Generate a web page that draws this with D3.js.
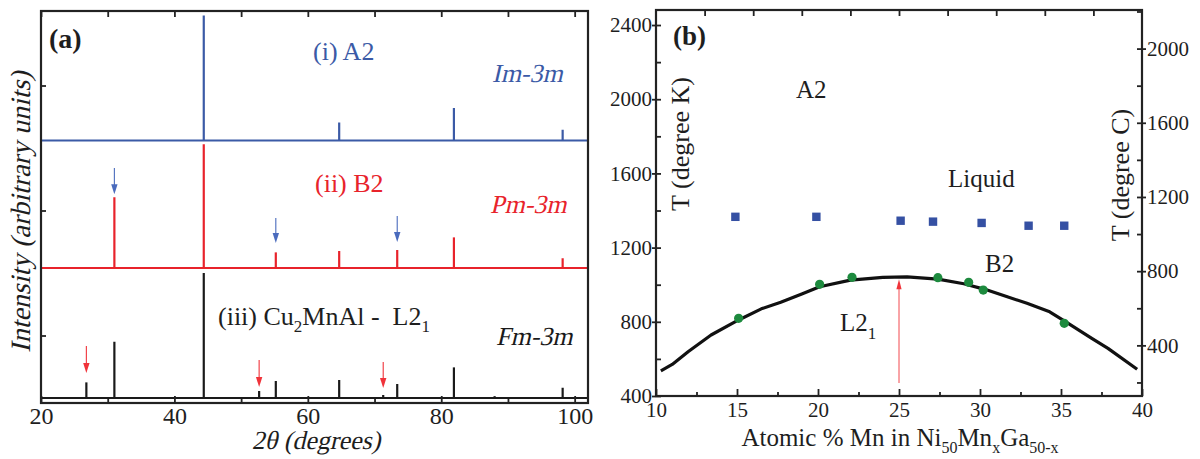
<!DOCTYPE html>
<html><head><meta charset="utf-8">
<script src="https://cdn.jsdelivr.net/npm/d3@7"></script>
<style>
body{margin:0;background:#fff}
svg{display:block}
text{font-family:"Liberation Serif",serif;fill:#1e1e1e}
</style>
</head><body>
<svg id="c" width="1200" height="459" font-family="Liberation Serif, serif"></svg>
<script>
// ---------- Panel (a) data: XRD stick patterns ----------
const a2Angles = [44.4, 64.7, 81.9, 98.2];
const a2Intensity = [100, 14.4, 26, 8.6];
const b2Angles = [31.0, 44.4, 55.2, 64.7, 73.4, 81.9, 98.2];
const b2Intensity = [56.6, 99, 12.5, 13.6, 14.4, 24.5, 7.8];
const l21Angles = [26.8, 31.0, 44.4, 52.7, 55.2, 64.7, 71.3, 73.4, 81.9, 88.0, 98.2];
const l21Intensity = [12.5, 45, 100, 5.6, 13.6, 14.4, 2.4, 11.2, 24.5, 1.5, 8.2];
// arrows (angle, start intensity, tip intensity) relative to the pattern baseline
const blueArrowAngles = [31.0, 55.2, 73.4];
const blueArrowFrom = [80, 40, 41.6];
const blueArrowTo = [59, 20, 20.8];
const redArrowAngles = [26.8, 52.7, 71.3];
const redArrowFrom = [41.6, 30.4, 28.8];
const redArrowTo = [20, 8.8, 8];
const xTicksA = [20, 40, 60, 80, 100];
const xMinorA = [30, 50, 70, 90];

// ---------- Panel (b) data: phase diagram ----------
const liquidusX = [14.9, 19.9, 25.1, 27.1, 30.1, 33.0, 35.2];
const liquidusK = [1366, 1366, 1345, 1340, 1333, 1318, 1318];
const orderX = [15.1, 20.1, 22.1, 27.4, 29.3, 30.2, 35.2];
const orderK = [819, 1002, 1040, 1038, 1013, 971, 792];
const curveX = [10.3, 11.0, 12.0, 13.4, 15.1, 16.5, 17.7, 19.0, 20.1, 22.0, 24.0, 25.5, 27.4, 29.0, 30.3, 31.5, 32.9, 34.3, 35.3, 36.9, 37.9, 39.7];
const curveK = [536, 570, 640, 729, 810, 870, 905, 950, 989, 1025, 1040, 1042, 1030, 1005, 975, 940, 900, 854, 800, 711, 657, 544];
const xTicksB = [10, 15, 20, 25, 30, 35, 40];
const xMinorB = [12.5, 17.5, 22.5, 27.5, 32.5, 37.5];
const xTopB = [13, 16, 19, 22, 25, 28, 31, 34, 37];
const yTicksK = [400, 800, 1200, 1600, 2000, 2400];
const yMinorK = [600, 1000, 1400, 1800, 2200];
const yTicksC = [400, 800, 1200, 1600, 2000];
const yMinorC = [200, 600, 1000, 1400, 1800, 2200];

const SERIF = "Liberation Serif, serif";
const BLUE = "#3b5aa6", RED = "#e8232b", BLACK = "#1a1a1a", GREEN = "#1d8a3e", SQ = "#3550a3";
const svg = d3.select("#c");
svg.append("rect").attr("width",1200).attr("height",459).attr("fill","#fff");

// italic helper: serif text slanted with skewX (keeps a serif look whatever italic face exists)
function italic(g, x, y, str, size, color, anchor) {
  const gg = g.append("g").attr("transform", `translate(${x},${y}) skewX(-13)`);
  return gg.append("text").attr("x", 0).attr("y", 0)
    .attr("text-anchor", anchor || "start")
    .attr("font-family", SERIF).style("font-size", size + "px").style("fill", color || "#1e1e1e")
    .text(str);
}

// ================= Panel (a) =================
const xA = d3.scaleLinear().domain([20, 102]).range([41, 588]);
const yA = d3.scaleLinear().domain([-4, 309.6]).range([403, 11]);
const pa = svg.append("g");

const patterns = [
  {angles: a2Angles, inten: a2Intensity, off: 206, color: BLUE},
  {angles: b2Angles, inten: b2Intensity, off: 104, color: RED},
  {angles: l21Angles, inten: l21Intensity, off: 0, color: BLACK}
];
patterns.forEach(p => {
  pa.append("line").attr("x1", xA.range()[0]).attr("x2", xA.range()[1])
    .attr("y1", yA(p.off)).attr("y2", yA(p.off))
    .attr("stroke", p.color).attr("stroke-width", 2.2);
  pa.selectAll(null).data(p.angles).enter().append("line")
    .attr("x1", d => xA(d)).attr("x2", d => xA(d))
    .attr("y1", yA(p.off)).attr("y2", (d,i) => yA(p.off + p.inten[i]))
    .attr("stroke", p.color).attr("stroke-width", 2.2);
});

function arrow(g, x, y1, y2, color, w, hw, hl) {
  const dir = y2 > y1 ? -1 : 1;
  g.append("line").attr("x1", x).attr("x2", x).attr("y1", y1).attr("y2", y2 + dir*(hl-1))
    .attr("stroke", color).attr("stroke-width", w);
  g.append("path").attr("d", `M${x},${y2} L${x-hw},${y2+dir*hl} L${x+hw},${y2+dir*hl} Z`).attr("fill", color);
}
blueArrowAngles.forEach((a,i) => arrow(pa, xA(a), yA(104+blueArrowFrom[i]), yA(104+blueArrowTo[i]), "#4a6bbd", 1.1, 3.2, 10));
redArrowAngles.forEach((a,i) => arrow(pa, xA(a), yA(redArrowFrom[i]), yA(redArrowTo[i]), "#f0333a", 1.1, 3.2, 10));

// frame
pa.append("rect").attr("x", 41).attr("y", 11).attr("width", 547).attr("height", 392)
  .attr("fill","none").attr("stroke","#222").attr("stroke-width",2.2);

function styleAxis(a, size) {
  a.attr("font-family", SERIF).attr("font-size", size || 10);
  a.select(".domain").remove();
  a.selectAll("line").attr("stroke","#222").attr("stroke-width",1.8);
  a.selectAll("text").attr("font-family", SERIF).style("font-family", SERIF)
    .style("font-size", (size||10) + "px").attr("fill","#1e1e1e");
}
const fmt = d3.format("d");
const axB = pa.append("g").attr("transform","translate(0,403)")
  .call(d3.axisBottom(xA).tickValues(xTicksA).tickFormat(fmt).tickSize(-7).tickPadding(4));
styleAxis(axB, 24);
const axBm = pa.append("g").attr("transform","translate(0,403)")
  .call(d3.axisBottom(xA).tickValues(xMinorA).tickSize(-4).tickFormat(""));
styleAxis(axBm);
const axT = pa.append("g").attr("transform","translate(0,11)")
  .call(d3.axisTop(xA).tickValues(xTicksA.concat(xMinorA)).tickSize(-6).tickFormat(""));
styleAxis(axT);
const axL = pa.append("g").attr("transform","translate(41,0)")
  .call(d3.axisLeft(yA).tickValues([50,150,250]).tickSize(-5).tickFormat(""));
styleAxis(axL);

// labels
pa.append("text").attr("x", 49).attr("y", 48).attr("font-family", SERIF).style("font-size","28px").style("font-weight","bold").text("(a)");
pa.append("text").attr("x", 313).attr("y", 60).attr("font-family", SERIF).style("font-size","26px").style("fill",BLUE).text("(i) A2");
italic(pa, 492, 82, "Im-3m", 26, BLUE);
pa.append("text").attr("x", 315).attr("y", 192).attr("font-family", SERIF).style("font-size","26px").style("fill",RED).text("(ii) B2");
italic(pa, 490, 213, "Pm-3m", 26, RED);
const t3 = pa.append("text").attr("x", 218).attr("y", 325).attr("font-family", SERIF).style("font-size","26px").attr("xml:space","preserve");
t3.append("tspan").text("(iii) Cu");
t3.append("tspan").attr("dy", 7).style("font-size","17px").text("2");
t3.append("tspan").attr("dy", -7).text("MnAl -  L2");
t3.append("tspan").attr("dy", 7).style("font-size","17px").text("1");
italic(pa, 496, 345, "Fm-3m", 26, BLACK);
italic(pa, 316, 449, "2\u03B8 (degrees)", 26, "#1e1e1e", "middle");
pa.append("g").attr("transform","translate(30,212) rotate(-90) skewX(-13)")
  .append("text").attr("text-anchor","middle").attr("font-family", SERIF)
  .style("font-size","28px").text("Intensity (arbitrary units)");

// ================= Panel (b) =================
const xB = d3.scaleLinear().domain([10, 40]).range([656, 1142]);
const yB = d3.scaleLinear().domain([400, 2481]).range([396, 10]);
const yC = d3.scaleLinear().domain([127, 2208]).range([396, 10]);
const pb = svg.append("g");

pb.append("path").datum(curveX.map((x,i) => [x, curveK[i]]))
  .attr("d", d3.line().x(d => xB(d[0])).y(d => yB(d[1])))
  .attr("fill","none").attr("stroke","#111").attr("stroke-width",3.2).attr("stroke-linejoin","round");

pb.selectAll(".sq").data(liquidusX).enter().append("rect")
  .attr("x", d => xB(d) - 4.2).attr("y", (d,i) => yB(liquidusK[i]) - 4.2)
  .attr("width", 8.4).attr("height", 8.4).attr("fill", SQ);

pb.selectAll(".ci").data(orderX).enter().append("circle")
  .attr("cx", d => xB(d)).attr("cy", (d,i) => yB(orderK[i])).attr("r", 4.6).attr("fill", GREEN);

arrow(pb, xB(25), yB(470), yB(1030), "#f0333a", 0.9, 2.6, 10);

pb.append("rect").attr("x", 656).attr("y", 10).attr("width", 486).attr("height", 386)
  .attr("fill","none").attr("stroke","#222").attr("stroke-width",2.2);

const bB = pb.append("g").attr("transform","translate(0,396)")
  .call(d3.axisBottom(xB).tickValues(xTicksB).tickFormat(fmt).tickSize(-7).tickPadding(6));
styleAxis(bB, 21);
const bBm = pb.append("g").attr("transform","translate(0,396)")
  .call(d3.axisBottom(xB).tickValues(xMinorB).tickSize(-4).tickFormat(""));
styleAxis(bBm);
const bT = pb.append("g").attr("transform","translate(0,10)")
  .call(d3.axisTop(xB).tickValues(xTopB).tickSize(-6).tickFormat(""));
styleAxis(bT);
const bL = pb.append("g").attr("transform","translate(656,0)")
  .call(d3.axisLeft(yB).tickValues(yTicksK).tickFormat(fmt).tickSizeInner(-5).tickSizeOuter(0).tickPadding(8));
styleAxis(bL, 21);
bL.selectAll(".tick line").attr("x1", -4).attr("x2", 5);
bL.selectAll("text").attr("x", -4);
const bLm = pb.append("g").attr("transform","translate(656,0)")
  .call(d3.axisLeft(yB).tickValues(yMinorK).tickSize(-5).tickFormat(""));
styleAxis(bLm);
const bR = pb.append("g").attr("transform","translate(1142,0)")
  .call(d3.axisRight(yC).tickValues(yTicksC).tickFormat(fmt).tickSizeInner(-5).tickSizeOuter(0).tickPadding(8));
styleAxis(bR, 21);
bR.selectAll(".tick line").attr("x1", -5).attr("x2", 4);
bR.selectAll("text").attr("x", 5);
const bRm = pb.append("g").attr("transform","translate(1142,0)")
  .call(d3.axisRight(yC).tickValues(yMinorC).tickSize(-5).tickFormat(""));
styleAxis(bRm);

pb.append("text").attr("x", 673).attr("y", 45).attr("font-family", SERIF).style("font-size","27px").style("font-weight","bold").text("(b)");
pb.append("text").attr("x", 796).attr("y", 98).attr("font-family", SERIF).style("font-size","25px").text("A2");
pb.append("text").attr("x", 948).attr("y", 187).attr("font-family", SERIF).style("font-size","25px").text("Liquid");
pb.append("text").attr("x", 985).attr("y", 272).attr("font-family", SERIF).style("font-size","25px").text("B2");
const l21 = pb.append("text").attr("x", 840).attr("y", 331).attr("font-family", SERIF).style("font-size","25px");
l21.append("tspan").text("L2");
l21.append("tspan").attr("dy", 8).style("font-size","17px").text("1");
pb.append("text").attr("transform","translate(689,144) rotate(-90)").attr("text-anchor","middle")
  .attr("font-family", SERIF).style("font-size","26px").text("T (degree K)");
pb.append("text").attr("transform","translate(1129,175) rotate(-90)").attr("text-anchor","middle")
  .attr("font-family", SERIF).style("font-size","26px").text("T (degree C)");
const bx = pb.append("text").attr("x", 900).attr("y", 446).attr("text-anchor","middle").attr("font-family", SERIF).style("font-size","25px");
bx.append("tspan").text("Atomic % Mn in Ni");
bx.append("tspan").attr("dy", 7).style("font-size","16px").text("50");
bx.append("tspan").attr("dy", -7).text("Mn");
bx.append("tspan").attr("dy", 7).style("font-size","16px").text("x");
bx.append("tspan").attr("dy", -7).text("Ga");
bx.append("tspan").attr("dy", 7).style("font-size","16px").text("50-x");
</script>
</body></html>
